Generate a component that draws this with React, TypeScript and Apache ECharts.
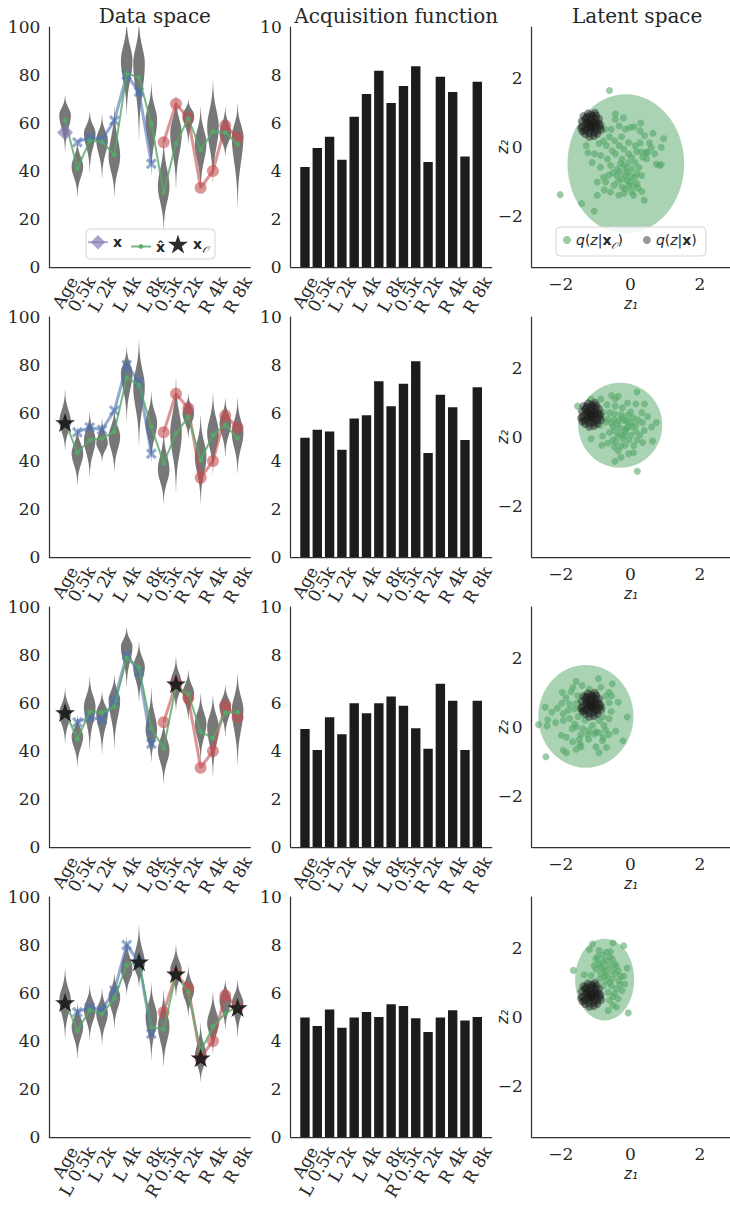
import React, { useEffect, useRef } from "react";
import * as echarts from "echarts";

// ---------- data ----------
const FEATURES = ["Age", "L 0.5k", "L 1k", "L 2k", "L 3k", "L 4k", "L 6k", "L 8k", "R 0.5k", "R 1k", "R 2k", "R 3k", "R 4k", "R 6k", "R 8k"];
const LABELED_IDX = [0, 1, 3, 5, 7, 8, 10, 12, 14];
const COL_TITLES = ["Data space", "Acquisition function", "Latent space"];

// patient's true values
const X_TRUE = [56, 52, 54, 53, 61, 80, 73, 43, 52, 68, 62, 33, 40, 59, 54];
// indices observed at each step
const OBSERVED = [[], [0], [0, 9], [0, 6, 9, 11, 14]];

// reconstructions x-hat per step
const X_HAT_1 = [61.2, 41, 52.6, 52.2, 46.7, 80.6, 79, 59.8, 31, 51.5, 61.9, 48.8, 56.4, 56, 51.2];
const X_HAT_2 = [56.5, 43.5, 48.8, 49.4, 52.2, 74.8, 71.6, 54.3, 39, 51.5, 58.4, 40.4, 50.8, 55, 49.4];
const X_HAT_3 = [56.5, 44.9, 56.4, 56, 58.4, 78.8, 74.8, 49.4, 41.1, 67, 63.7, 48.1, 45.3, 56, 56.1];
const X_HAT_4 = [56.5, 44.3, 52.9, 51.2, 57.8, 71.6, 73, 45.7, 44.9, 67.5, 60.5, 35.6, 46, 51.5, 54.3];

// predictive distributions per feature: [low end, mode, high end]
const VIOLIN_1 = [[48, 63.3, 71.6], [29.4, 41.8, 53], [39.7, 55.7, 64.7], [37, 52.9, 63.3], [29.4, 46, 67], [63.3, 86, 103], [53, 84.8, 103], [38.4, 61.2, 76.5], [15.5, 33.5, 53.6], [32.8, 55.7, 71.6], [51.5, 63.3, 69.8], [32, 51.5, 66.8], [34.9, 58.4, 77.8], [46, 55.7, 66.8], [25.2, 54.3, 68]];
const VIOLIN_2 = [[44.6, 56.4, 69.5], [30, 43.2, 54.3], [33.5, 48.8, 60.5], [39.7, 47.4, 57.8], [35.6, 50.1, 61.9], [57, 76.5, 87.5], [46.7, 70.9, 90.3], [39.7, 55.7, 68.8], [22.4, 36.3, 52.9], [27.3, 51.5, 74.4], [49.4, 59.8, 68.1], [22.4, 41.8, 59.1], [34.9, 51.5, 68.1], [41.8, 55.7, 66.1], [34.9, 51.5, 66.1]];
const VIOLIN_3 = [[43.2, 55.7, 66.1], [33.5, 46, 55], [40.4, 58.4, 70.9], [39, 55.7, 64.7], [41.1, 61.2, 71.6], [66.8, 83.4, 91.7], [60.5, 75, 85.5], [35.6, 48.8, 66.1], [26.6, 40.4, 52.9], [57, 68.1, 79.2], [52.9, 64, 73.7], [35.6, 51.5, 64], [29.4, 50.1, 63.3], [46, 58.4, 67.5], [34.2, 57, 72.3]];
const VIOLIN_4 = [[41.1, 57, 70.2], [32.8, 46, 55.7], [40.4, 52.9, 63.3], [38.4, 51.5, 61.9], [45.3, 58.4, 68.1], [59.1, 69.5, 83.4], [62.6, 72.3, 88.2], [32.1, 50.1, 64], [29.4, 46, 61.2], [58.4, 69.5, 80], [50.1, 61.2, 70.9], [23.1, 33.5, 47.4], [34.9, 47.4, 60.5], [44.6, 57, 65.4], [41.8, 55.7, 65.4]];

// acquisition scores per feature
const ACQ_1 = [4.17, 4.96, 5.43, 4.47, 6.26, 7.21, 8.18, 6.83, 7.54, 8.36, 4.38, 7.93, 7.29, 4.6, 7.72];
const ACQ_2 = [4.97, 5.3, 5.23, 4.47, 5.77, 5.91, 7.32, 6.28, 7.22, 8.16, 4.33, 6.76, 6.24, 4.87, 7.07];
const ACQ_3 = [4.92, 4.04, 5.41, 4.7, 5.99, 5.57, 5.99, 6.27, 5.89, 4.95, 4.09, 6.8, 6.09, 4.04, 6.09];
const ACQ_4 = [4.98, 4.63, 5.31, 4.55, 4.98, 5.21, 5.0, 5.53, 5.46, 4.95, 4.37, 4.98, 5.28, 4.85, 5.0];

// latent posterior ellipses q(z|x_O): [cx, cy, rx, ry]
const ELLIPSE_1 = [-0.13, -0.49, 1.68, 2.03];
const ELLIPSE_2 = [-0.29, 0.34, 1.21, 1.24];
const ELLIPSE_3 = [-1.28, 0.31, 1.37, 1.5];
const ELLIPSE_4 = [-0.74, 1.09, 0.85, 1.19];

// samples from q(z|x_O)
const Z_OBS_1 = [[-0.6, 1.65], [-0.43, 0.96], [-0.43, 0.81], [-0.32, 0.61], [-0.55, 0.52], [-0.72, 0.52], [-0.14, 0.52], [0, 0.57], [0.11, 0.59], [0.28, 0.47], [0.41, 0.33], [0.96, 0.25], [-0.77, 0.18], [-0.45, 0.18], [-0.32, 0.04], [-1.27, 0.04], [-1.22, -0.17], [-1.03, -0.2], [-0.85, -0.25], [-0.66, -0.35], [-0.52, -0.11], [-0.43, -0.2], [-0.19, -0.06], [-0.05, -0.2], [0.04, -0.3], [0.18, -0.13], [0.32, -0.15], [0.49, -0.17], [0.7, -0.2], [0.89, -0.01], [0.75, -0.5], [0.84, -0.54], [-0.57, -0.54], [-0.38, -0.64], [-0.19, -0.54], [-0.09, -0.74], [0.05, -0.64], [0.19, -0.78], [0.33, -0.83], [-0.24, -0.93], [-0.09, -0.98], [-0.77, -0.88], [-0.95, -1.02], [-0.71, -1.02], [-0.47, -1.12], [-0.33, -1.41], [-0.14, -1.22], [0.04, -1.31], [0.09, -1.41], [0.33, -1.3], [0.4, -1.55], [-0.95, -1.41], [-1.4, -1.65], [-1.04, -1.87], [-2.02, -1.39], [-0.57, -1.31], [0.14, -0.45], [0.47, -0.35], [-0.05, -0.45], [-0.24, -0.35], [-0.05, 0.13], [0.14, 0.04], [0.28, 0.12], [0.47, -0.15], [-0.69, 0.04], [-0.14, -0.83], [-0.02, -1.02], [0.19, -1.07], [-0.24, -1.17], [-0.39, -0.83], [-0.86, -0.59], [0.89, -0.51], [-0.28, -0.48], [-0.12, -0.62], [0.02, -0.85], [0.12, -0.9], [0.25, -0.6], [-0.3, -0.72], [-0.5, -0.75], [-0.62, -0.82], [0.08, -1.12], [-0.05, -1.15], [0.22, -1.2], [-0.18, -1.35], [0.36, -0.3], [0.6, -0.02], [0.55, 0.12], [-0.25, 0.3], [-0.6, 0.3], [-0.9, 0.1], [-1.1, -0.45], [-0.2, 0.85], [0.3, 0.7], [0.65, 0.4], [-0.75, -1.25], [-0.35, -1.0]];
const Z_OBS_2 = [[0.19, 1.31], [-0.54, 1.21], [-0.35, 1.19], [-0.44, 1.11], [-0.85, 1.11], [-1.13, 1.11], [-0.08, 0.99], [0.16, 0.96], [0.41, 0.96], [-0.67, 0.94], [-0.44, 0.9], [-0.23, 0.85], [-1.52, 0.9], [0.33, 0.71], [-0.79, 0.72], [-0.6, 0.71], [-0.46, 0.68], [-0.27, 0.65], [-0.08, 0.63], [0.08, 0.57], [-0.65, 0.53], [-0.46, 0.51], [-0.34, 0.46], [-0.18, 0.48], [0.01, 0.42], [0.16, 0.34], [0.35, 0.42], [0.75, 0.42], [0.61, 0.29], [-0.87, 0.34], [-0.51, 0.32], [-0.3, 0.26], [-0.13, 0.24], [-0.46, 0.19], [0.16, 0.16], [0.4, 0.19], [-0.8, 0.03], [-0.6, 0.13], [-0.37, 0.03], [-0.18, 0.05], [-0.04, -0.09], [0.19, -0.09], [0.35, -0.16], [0.64, -0.12], [-1.13, -0.05], [-0.82, -0.24], [-0.51, -0.09], [-0.46, -0.29], [-0.27, -0.26], [-0.15, -0.24], [-0.05, -0.49], [0.09, -0.46], [-0.27, -0.59], [-0.44, -0.71], [0.2, -1.0], [-0.42, -0.14], [-0.21, -0.05], [-0.7, 0.44], [0.01, 0.73], [-0.25, 0.55], [-0.1, 0.45], [0.05, 0.3], [-0.38, 0.38], [-0.55, 0.42], [0.22, 0.5], [0.5, 0.6], [-0.15, 0.15], [-0.3, 0.08], [0.02, 0.05], [0.28, 0.05], [-0.65, -0.18], [-0.35, -0.4], [0.1, -0.25], [-0.08, 0.28]];
const Z_OBS_3 = [[-0.92, 1.41], [-1.56, 1.33], [-1.39, 1.21], [-0.52, 1.26], [-0.85, 1.16], [-1.18, 1.11], [-1.96, 1.01], [-1.71, 1.03], [-1.52, 0.91], [-0.61, 1.01], [-0.71, 0.9], [-0.54, 0.91], [-1.97, 0.69], [-1.75, 0.67], [-1.61, 0.53], [-0.35, 0.72], [-0.61, 0.71], [-2.45, 0.58], [-2.26, 0.44], [-1.93, 0.39], [-1.79, 0.49], [-1.42, 0.49], [-0.8, 0.29], [-0.61, 0.24], [-0.9, 0.19], [-0.09, 0.29], [-2.38, 0.21], [-2.15, 0.13], [-2.64, 0.07], [-2.4, 0.03], [-1.61, 0.09], [-1.56, 0.0], [-1.68, -0.05], [-1.37, -0.05], [-1.09, 0.05], [-0.99, -0.14], [-0.76, 0.05], [-0.71, -0.09], [-0.42, -0.12], [-0.9, -0.17], [-1.23, -0.22], [-1.42, -0.22], [-1.99, -0.24], [-1.84, -0.3], [-1.66, -0.43], [-1.47, -0.36], [-1.04, -0.2], [-0.78, -0.3], [-0.61, -0.22], [-0.21, -0.4], [-0.8, -0.4], [-1.2, -0.36], [-0.99, -0.58], [-0.69, -0.6], [-1.56, -0.65], [-1.42, -0.58], [-1.93, -0.68], [-1.84, -0.75], [-2.43, -0.87], [-1.28, 0.9], [-1.09, 0.82], [-0.8, 0.58], [-1.93, 0.19], [-1.5, 0.3], [-1.75, 0.25], [-1.3, 0.2], [-1.55, 0.7], [-1.85, 0.85], [-0.95, 0.5], [-0.55, 0.45], [-1.2, -0.1], [-1.45, -0.5], [-0.9, -0.75], [-2.1, 0.55], [-1.65, 1.15]];
const Z_OBS_4 = [[-1.09, 2.13], [-0.5, 2.16], [-0.19, 2.08], [-1.18, 1.97], [-0.9, 1.94], [-0.69, 1.89], [-0.57, 1.91], [-0.8, 1.81], [-0.99, 1.69], [-0.71, 1.65], [-0.52, 1.69], [-0.9, 1.55], [-0.61, 1.52], [-0.4, 1.48], [-0.09, 1.42], [-1.64, 1.36], [-0.99, 1.39], [-0.76, 1.41], [-0.52, 1.36], [-1.33, 1.23], [-1.13, 1.21], [-0.85, 1.26], [-0.66, 1.21], [-0.44, 1.26], [-0.28, 1.19], [-0.19, 1.19], [-0.88, 1.11], [-0.69, 1.06], [-0.52, 1.11], [-0.33, 1.06], [-0.16, 0.96], [-0.78, 0.91], [-0.54, 0.91], [-0.4, 0.82], [-0.24, 0.77], [-0.64, 0.72], [-0.45, 0.68], [-0.35, 0.53], [-0.59, 0.49], [-0.5, 0.34], [-0.64, 0.19], [-0.4, 0.29], [-0.06, 0.12], [-1.33, 0.84], [-0.8, 1.6], [-1.04, 1.5], [-0.6, 1.75], [-0.85, 1.45], [-0.45, 1.55], [-0.7, 1.35], [-0.35, 1.35], [-0.95, 1.75], [-0.6, 1.0], [-0.3, 0.95], [-0.75, 1.2], [-0.5, 0.6]];
// samples from q(z|x) (all features observed)
const Z_FULL = [[-1.14, 0.66], [-1.05, 0.72], [-1.22, 0.6], [-1.1, 0.55], [-1.2, 0.75], [-1.0, 0.62], [-1.28, 0.68], [-1.15, 0.85], [-1.08, 0.9], [-1.25, 0.88], [-0.92, 0.7], [-0.88, 0.58], [-0.95, 0.48], [-1.05, 0.42], [-1.18, 0.4], [-1.32, 0.48], [-1.38, 0.6], [-1.4, 0.75], [-1.3, 0.82], [-1.0, 0.82], [-1.12, 0.95], [-0.98, 0.92], [-0.9, 0.82], [-1.35, 0.9], [-1.25, 0.52], [-1.02, 0.52], [-1.15, 0.5], [-1.18, 0.3], [-1.05, 0.32], [-0.95, 0.38], [-1.3, 0.38], [-1.42, 0.55], [-0.86, 0.65], [-1.2, 0.68], [-1.08, 0.65], [-1.12, 0.78], [-1.25, 0.72], [-1.0, 0.7], [-1.1, 0.6], [-1.16, 0.58], [-0.84, 0.5], [-1.38, 0.45], [-1.22, 0.98], [-1.02, 1.0]];

const X_HAT = [X_HAT_1, X_HAT_2, X_HAT_3, X_HAT_4];
const VIOLINS = [VIOLIN_1, VIOLIN_2, VIOLIN_3, VIOLIN_4];
const ACQ = [ACQ_1, ACQ_2, ACQ_3, ACQ_4];
const ELLIPSES = [ELLIPSE_1, ELLIPSE_2, ELLIPSE_3, ELLIPSE_4];
const Z_OBS = [Z_OBS_1, Z_OBS_2, Z_OBS_3, Z_OBS_4];

// ---------- layout & style ----------
const GRID_LEFT = [49.3, 290.7, 531.7];
const GRID_TOP = [27, 317, 607, 897];
const GRID_W = 201;
const GRID_H = 240;
const X_RANGE = [[-1.28, 15.03], [-1.16, 15.17], [-2.84, 2.87]];

const TEXT = "#262626";
const AXIS = "#333333";
const SERIF = '"DejaVu Serif", serif';
const SANS = '"DejaVu Sans", sans-serif';
const TICK_FS = 17;
const BLUE = "#4c72b0";
const RED = "#c44e52";
const GREEN = "#55a868";
const PURPLE = "#8172b2";
const VIOLIN_COLOR = "#777777";
const VIOLIN_HALF = 0.47;
const VIOLIN_K = 4;

const X_MARK = "path://M-1,-0.6L-0.6,-1L0,-0.4L0.6,-1L1,-0.6L0.4,0L1,0.6L0.6,1L0,0.4L-0.6,1L-1,0.6L-0.4,0Z";
const STAR = "path://M0,-1L-0.2245,-0.309L-0.951,-0.309L-0.363,0.118L-0.588,0.809L0,0.382L0.588,0.809L0.363,0.118L0.951,-0.309L0.2245,-0.309Z";

const LEGEND_TEXT: Record<string, string> = {
  x: "{b|x}",
  xhat: "{b|x\u0302}",
  xobs: "{b|x}{s|𝒪}",
  qo: "{i|q}{n|(}{i|z}{n||}{b|x}{s|𝒪}{n|)}",
  qx: "{i|q}{n|(}{i|z}{n||}{b|x}{n|)}",
};

const LEGEND_RICH = {
  b: { fontFamily: SANS, fontWeight: "bold", fontSize: 14, color: TEXT, lineHeight: 20 },
  n: { fontFamily: SANS, fontSize: 14, color: TEXT, lineHeight: 20 },
  i: { fontFamily: SANS, fontStyle: "italic", fontSize: 14, color: TEXT, lineHeight: 20 },
  s: { fontFamily: SANS, fontStyle: "italic", fontSize: 10, color: TEXT, lineHeight: 10, verticalAlign: "bottom" },
};

function textWidth(text: string, font: string): number {
  const ctx = document.createElement("canvas").getContext("2d");
  if (!ctx) return text.length * 9;
  ctx.font = font;
  return ctx.measureText(text).width;
}

const minus = (v: number) => (v < 0 ? "\u2212" + String(-v) : String(v));

function buildOption() {
  const grids: any[] = [];
  const xAxes: any[] = [];
  const yAxes: any[] = [];
  const series: any[] = [];
  const titles: any[] = [];
  const tickFont = `${TICK_FS}px "DejaVu Serif"`;

  // rotated feature labels sit like centre-aligned rotated text: their end is shifted right by a quarter of the text length
  const labelPos = [0, 1].map((c) => {
    const ppu = GRID_W / (X_RANGE[c][1] - X_RANGE[c][0]);
    return LABELED_IDX.map((i) => i + textWidth(FEATURES[i], tickFont) / 4 / ppu);
  });

  const axisLineStyle = { show: true, onZero: false, lineStyle: { color: AXIS, width: 1.25 } };
  const baseLabel = { fontFamily: SERIF, fontSize: TICK_FS, color: TEXT };

  for (let c = 0; c < 3; c++) {
    titles.push({
      text: COL_TITLES[c],
      left: GRID_LEFT[c] + GRID_W / 2,
      top: 1,
      textAlign: "center",
      textStyle: { fontFamily: SERIF, fontSize: 20, fontWeight: "normal", color: TEXT },
    });
  }

  // extra x-axes that only carry the first feature label (kept apart so the label layout never drops it)
  const firstLabelAxes: any[] = [];

  for (let r = 0; r < 4; r++) {
    for (let c = 0; c < 3; c++) {
      const g = r * 3 + c;
      grids.push({ left: GRID_LEFT[c], top: GRID_TOP[r], width: GRID_W, height: GRID_H });
      if (c < 2) {
        const pos = labelPos[c];
        const labelFor = (v: number) => {
          let best = 0;
          for (let j = 1; j < pos.length; j++) if (Math.abs(pos[j] - v) < Math.abs(pos[best] - v)) best = j;
          const name = FEATURES[LABELED_IDX[best]];
          // the lower row covers the start of the long labels
          if (r < 3 && name.endsWith("0.5k")) return "0.5k";
          return name;
        };
        const rotLabel = { ...baseLabel, lineHeight: 11, rotate: 60, margin: 11, formatter: labelFor };
        xAxes.push({
          type: "value",
          gridIndex: g,
          min: X_RANGE[c][0],
          max: X_RANGE[c][1],
          axisLine: axisLineStyle,
          axisTick: { show: false },
          splitLine: { show: false },
          axisLabel: { ...rotLabel, customValues: pos.slice(1), showMinLabel: true, showMaxLabel: true },
        });
        firstLabelAxes.push({
          type: "value",
          gridIndex: g,
          position: "bottom",
          min: X_RANGE[c][0],
          max: X_RANGE[c][1],
          axisLine: { show: false, onZero: false },
          axisTick: { show: false },
          splitLine: { show: false },
          axisLabel: { ...rotLabel, customValues: [pos[0]], showMinLabel: true, showMaxLabel: true },
        });
        yAxes.push({
          type: "value",
          gridIndex: g,
          min: 0,
          max: c === 0 ? 100 : 10,
          interval: c === 0 ? 20 : 2,
          axisLine: axisLineStyle,
          axisTick: { show: false },
          splitLine: { show: false },
          axisLabel: { ...baseLabel, margin: 9, showMinLabel: true, showMaxLabel: true },
        });
      } else {
        xAxes.push({
          type: "value",
          gridIndex: g,
          min: X_RANGE[2][0],
          max: X_RANGE[2][1],
          axisLine: axisLineStyle,
          axisTick: { show: false },
          splitLine: { show: false },
          axisLabel: { ...baseLabel, lineHeight: 16, customValues: [-2, 0, 2], margin: 9, formatter: minus },
          name: "z\u2081",
          nameLocation: "middle",
          nameGap: 30,
          nameMoveOverlap: false,
          nameTextStyle: { fontFamily: SANS, fontStyle: "italic", fontSize: 15, lineHeight: 14, color: TEXT },
        });
        yAxes.push({
          type: "value",
          gridIndex: g,
          min: -3.5,
          max: 3.5,
          axisLine: axisLineStyle,
          axisTick: { show: false },
          splitLine: { show: false },
          axisLabel: { ...baseLabel, customValues: [-2, 0, 2], margin: 9, formatter: minus },
          name: "z\u2082",
          nameLocation: "middle",
          nameRotate: 90,
          nameGap: 21,
          nameMoveOverlap: false,
          nameTextStyle: { fontFamily: SANS, fontStyle: "italic", fontSize: 15, color: TEXT },
        });
      }
    }
  }

  for (let r = 0; r < 4; r++) {
    // ---- data space ----
    const g0 = r * 3;
    series.push({
      type: "custom",
      xAxisIndex: g0,
      yAxisIndex: g0,
      silent: true,
      z: 1,
      data: VIOLINS[r].map((v, i) => [i, v[0], v[1], v[2]]),
      renderItem: (_p: any, api: any) => {
        const i = api.value(0) as number;
        const lo = api.value(1) as number;
        const md = api.value(2) as number;
        const hi = api.value(3) as number;
        const N = 24;
        const prof: number[][] = [];
        for (let k = N; k >= 1; k--) {
          const t = k / N;
          prof.push([md - (md - lo) * t, VIOLIN_HALF * Math.exp(-VIOLIN_K * t * t)]);
        }
        for (let k = 0; k <= N; k++) {
          const t = k / N;
          prof.push([md + (hi - md) * t, VIOLIN_HALF * Math.exp(-VIOLIN_K * t * t)]);
        }
        const right = prof.map(([y, w]) => api.coord([i + w, Math.min(y, 100)]));
        const left = prof.map(([y, w]) => api.coord([i - w, Math.min(y, 100)])).reverse();
        return { type: "polygon", shape: { points: right.concat(left) }, style: { fill: VIOLIN_COLOR } };
      },
    });
    series.push({
      type: "line",
      name: "xL",
      xAxisIndex: g0,
      yAxisIndex: g0,
      z: 3,
      data: [1, 2, 3, 4, 5, 6, 7].map((i) => [i, X_TRUE[i]]),
      symbol: X_MARK,
      symbolSize: 11,
      showAllSymbol: true,
      lineStyle: { color: BLUE, width: 3, opacity: 0.6 },
      itemStyle: { color: BLUE, opacity: 0.6 },
    });
    series.push({
      type: "line",
      name: "xR",
      xAxisIndex: g0,
      yAxisIndex: g0,
      z: 3,
      data: [8, 9, 10, 11, 12, 13, 14].map((i) => [i, X_TRUE[i]]),
      symbol: "circle",
      symbolSize: 12,
      showAllSymbol: true,
      lineStyle: { color: RED, width: 3, opacity: 0.6 },
      itemStyle: { color: RED, opacity: 0.6 },
    });
    series.push({
      type: "line",
      name: "xhat",
      xAxisIndex: g0,
      yAxisIndex: g0,
      z: 4,
      data: X_HAT[r].map((v, i) => [i, v]),
      symbol: "circle",
      symbolSize: 5,
      showAllSymbol: true,
      lineStyle: { color: GREEN, width: 2, opacity: 0.8 },
      itemStyle: { color: GREEN, opacity: 0.9 },
    });
    if (OBSERVED[r].length === 0) {
      series.push({
        type: "line",
        name: "x",
        xAxisIndex: g0,
        yAxisIndex: g0,
        z: 5,
        data: [[0, X_TRUE[0]]],
        symbol: "diamond",
        symbolSize: 16,
        lineStyle: { color: PURPLE, width: 2, opacity: 0.6 },
        itemStyle: { color: PURPLE, opacity: 0.65 },
      });
    } else {
      series.push({
        type: "scatter",
        name: "xobs",
        xAxisIndex: g0,
        yAxisIndex: g0,
        z: 6,
        data: OBSERVED[r].map((i) => [i, X_TRUE[i]]),
        symbol: STAR,
        symbolSize: 20,
        symbolKeepAspect: true,
        itemStyle: { color: "#1a1a1a", opacity: 0.92 },
      });
    }

    // ---- acquisition function ----
    const g1 = r * 3 + 1;
    series.push({
      type: "bar",
      xAxisIndex: g1,
      yAxisIndex: g1,
      data: ACQ[r].map((v, i) => [i, v]),
      barWidth: 9.4,
      itemStyle: { color: "#1c1c1c" },
    });

    // ---- latent space ----
    const g2 = r * 3 + 2;
    series.push({
      type: "custom",
      xAxisIndex: g2,
      yAxisIndex: g2,
      silent: true,
      z: 1,
      data: [ELLIPSES[r]],
      renderItem: (_p: any, api: any) => {
        const ctr = api.coord([api.value(0), api.value(1)]);
        const sz = api.size([api.value(2), api.value(3)]);
        return {
          type: "ellipse",
          shape: { cx: ctr[0], cy: ctr[1], rx: sz[0], ry: sz[1] },
          style: { fill: GREEN, opacity: 0.5 },
        };
      },
    });
    series.push({
      type: "scatter",
      name: "qo",
      xAxisIndex: g2,
      yAxisIndex: g2,
      z: 3,
      data: Z_OBS[r],
      symbolSize: 7,
      itemStyle: { color: GREEN, opacity: 0.6 },
    });
    series.push({
      type: "scatter",
      name: "qx",
      xAxisIndex: g2,
      yAxisIndex: g2,
      z: 4,
      data: Z_FULL,
      symbolSize: 8,
      itemStyle: { color: "#1a1a1a", opacity: 0.45 },
    });
  }

  const legendBase = {
    selectedMode: false,
    orient: "horizontal",
    z: 6,
    formatter: (name: string) => LEGEND_TEXT[name] || name,
    textStyle: { rich: LEGEND_RICH, color: TEXT },
  };
  // data-space legend: one entry per component so each handle keeps its own marker size
  const dataLegendCentre = 244;
  const dataLegend = [
    { name: "x", left: 87, w: 20, h: 18, dy: 0 },
    { name: "xhat", left: 130, w: 20, h: 6, dy: -1.5 },
    { name: "xobs", left: 168, w: 20, h: 19, dy: 0 },
  ].map((e) => ({
    ...legendBase,
    left: e.left,
    top: dataLegendCentre - e.h / 2 + e.dy,
    padding: 0,
    itemWidth: e.w,
    itemHeight: e.h,
    data: [e.name],
  }));

  return {
    animation: false,
    backgroundColor: "#ffffff",
    title: titles,
    graphic: [
      {
        type: "rect",
        z: 5,
        shape: { x: 86, y: 229, width: 129, height: 30, r: 4 },
        style: { fill: "rgba(255,255,255,0.85)", stroke: "#d5d5d5", lineWidth: 1 },
      },
    ],
    legend: [
      ...dataLegend,
      {
        ...legendBase,
        left: 556,
        top: 227,
        padding: [6, 9, 6, 7],
        itemGap: 20,
        itemWidth: 8,
        itemHeight: 8,
        backgroundColor: "rgba(255,255,255,0.85)",
        borderColor: "#d5d5d5",
        borderWidth: 1,
        borderRadius: 4,
        data: ["qo", "qx"],
      },
    ],
    grid: grids,
    xAxis: xAxes.concat(firstLabelAxes),
    yAxis: yAxes,
    series,
  };
}

export default function App() {
  const ref = useRef<HTMLDivElement>(null);
  useEffect(() => {
    if (!ref.current) return;
    const chart = echarts.init(ref.current, undefined, { renderer: "svg" });
    chart.setOption(buildOption() as any);
    return () => chart.dispose();
  }, []);
  return (
    <div
      ref={ref}
      style={{ position: "absolute", left: 0, top: 0, width: 730, height: 1205, background: "#ffffff" }}
    />
  );
}
